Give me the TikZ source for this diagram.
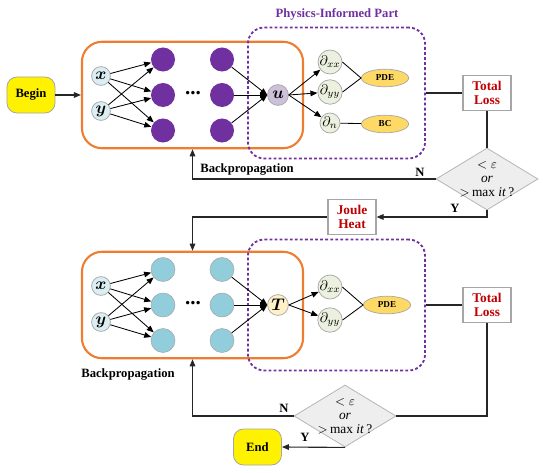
\documentclass[tikz,border=0pt]{standalone}
\usepackage{fontspec}
\setmainfont{Liberation Serif}
\usepackage{amsmath,amssymb}
\usepackage{xcolor}
\usepackage{tikz}
\usetikzlibrary{arrows.meta, positioning, shapes.geometric, calc}
\definecolor{nnline}{RGB}{237,125,49}
\definecolor{piline}{RGB}{112,48,160}
\definecolor{hidfillA}{RGB}{112,48,160}
\definecolor{hidfillB}{RGB}{146,205,220}
\definecolor{infill}{RGB}{218,238,243}
\definecolor{ufill}{RGB}{204,192,218}
\definecolor{tfill}{RGB}{255,240,200}
\definecolor{dfill}{RGB}{235,241,222}
\definecolor{termfill}{RGB}{255,217,102}
\definecolor{lossred}{RGB}{192,0,0}
\definecolor{boxline}{RGB}{166,166,166}
\definecolor{chkfill}{RGB}{238,238,238}

\begin{document}
\begin{tikzpicture}[
  x=0.025cm, y=-0.025cm,
  font=\fontsize{9}{10}\selectfont,
  termbox/.style={fill=yellow, draw=boxline, line width=0.6pt,
                  rounded corners=0.25cm, minimum width=1.2cm,
                  minimum height=0.9cm, font=\bfseries\fontsize{9}{10}\selectfont},
  nnbox/.style={draw=nnline, line width=1.5pt, rounded corners=0.5cm,
                minimum width=5.525cm, minimum height=2.66cm},
  pibox/.style={draw=piline, line width=1.3pt, dash pattern=on 2pt off 1.6pt,
                rounded corners=0.4cm, minimum width=4.425cm,
                minimum height=3.27cm},
  innode/.style={circle, fill=infill, draw=boxline, line width=0.5pt,
                 minimum size=0.47cm, inner sep=0pt,
                 font=\fontsize{12}{12}\selectfont},
  hidA/.style={circle, fill=hidfillA, minimum size=0.6cm, inner sep=0pt},
  hidB/.style={circle, fill=hidfillB, draw=boxline, line width=0.4pt,
               minimum size=0.6cm, inner sep=0pt},
  dotsnode/.style={font=\bfseries\fontsize{15}{15}\selectfont, inner sep=0pt},
  outnode/.style={circle, draw=boxline, line width=0.5pt,
                  minimum size=0.52cm, inner sep=0pt,
                  font=\fontsize{12}{12}\selectfont},
  dnode/.style={circle, fill=dfill, draw=boxline, line width=0.5pt,
                minimum size=0.5cm, inner sep=0pt,
                font=\fontsize{10}{10}\selectfont},
  lossterm/.style={ellipse, fill=termfill, draw=boxline, line width=0.5pt,
                   minimum width=1.18cm, minimum height=0.44cm, inner sep=0pt,
                   font=\bfseries\fontsize{6.5}{7}\selectfont},
  lossbox/.style={fill=white, draw=boxline, line width=0.8pt,
                  minimum width=1.2cm, minimum height=0.88cm, align=center,
                  text=lossred, font=\bfseries\fontsize{9.5}{10.5}\selectfont},
  decision/.style={diamond, fill=chkfill, draw=boxline!80, line width=0.6pt,
                   minimum width=2.55cm, minimum height=1.55cm, inner sep=0pt},
  dectext/.style={align=center, font=\fontsize{9.5}{10}\selectfont},
  netarrow/.style={-{Triangle[length=5pt, width=4pt]}, line width=0.6pt},
  netline/.style={line width=0.6pt},
  flowline/.style={line width=0.8pt, draw=black!85},
  flowarrow/.style={flowline, -{Triangle[length=5pt, width=4pt]}},
  lbl/.style={font=\bfseries\fontsize{9}{10}\selectfont},
]
\useasboundingbox (0,0) rectangle (550,472);

% =================================================================
%  TOP PART — NETWORK FOR u
% =================================================================
\node[termbox] (begin) at (31,95) {Begin};

\node[nnbox] (nn1) at (192.5,95) {};
\node[pibox] (pi1) at (336.5,93) {};
\node[lbl, text=piline] (pititle) at (337,14) {Physics-Informed Part};

\node[innode] (x1) at (101,76) {$\boldsymbol{x}$};
\node[innode] (y1) at (101,111) {$\boldsymbol{y}$};

\node[hidA] (ha1) at (163,59.5) {};
\node[hidA] (hb1) at (163,95) {};
\node[hidA] (hc1) at (163,130.5) {};
\node[dotsnode] (dots1) at (193,93) {...};
\node[hidA] (ka1) at (222,59.5) {};
\node[hidA] (kb1) at (222,95) {};
\node[hidA] (kc1) at (222,130.5) {};

\node[outnode, fill=ufill] (u) at (278,95) {$\boldsymbol{u}$};

\node[dnode] (dxx1) at (330,62) {$\partial_{xx}$};
\node[dnode] (dyy1) at (330,92) {$\partial_{yy}$};
\node[dnode] (dn1) at (330,123) {$\partial_{n}$};

\node[lossterm] (pde1) at (385,78) {PDE};
\node[lossterm] (bc1) at (385,124) {BC};

\node[lossbox] (tl1) at (487,93) {Total\\Loss};
\node[decision, label={[dectext]center:{$<\varepsilon$\\ \textit{or}\\
      $>$\,max \textit{it}\,?}}] (chk1) at (487,179) {};

\node[lossbox] (joule) at (352,217) {Joule\\Heat};

% =================================================================
%  BOTTOM PART — NETWORK FOR T
% =================================================================
\node[nnbox] (nn2) at (192.5,305) {};
\node[pibox] (pi2) at (336.5,305) {};

\node[innode] (x2) at (101,286) {$\boldsymbol{x}$};
\node[innode] (y2) at (101,322) {$\boldsymbol{y}$};

\node[hidB] (ha2) at (163,269.5) {};
\node[hidB] (hb2) at (163,305) {};
\node[hidB] (hc2) at (163,340.5) {};
\node[dotsnode] (dots2) at (193,303) {...};
\node[hidB] (ka2) at (222,269.5) {};
\node[hidB] (kb2) at (222,305) {};
\node[hidB] (kc2) at (222,340.5) {};

\node[outnode, fill=tfill] (T) at (278,305) {$\boldsymbol{T}$};

\node[dnode] (dxx2) at (330,287) {$\partial_{xx}$};
\node[dnode] (dyy2) at (330,320) {$\partial_{yy}$};

\node[lossterm] (pde2) at (387,305) {PDE};

\node[lossbox] (tl2) at (487,305) {Total\\Loss};
\node[decision, label={[dectext]center:{$<\varepsilon$\\ \textit{or}\\
      $>$\,max \textit{it}\,?}}] (chk2) at (345,416) {};

\node[termbox] (end) at (257.5,447) {End};

% =================================================================
%  NETWORK ARROWS
% =================================================================
\foreach \s in {x1,y1} \foreach \t in {ha1,hb1,hc1}
  \draw[netarrow] (\s) -- (\t);
\foreach \s in {ka1,kb1,kc1}
  \draw[netarrow] (\s) -- (u.west);
\foreach \t in {dxx1,dyy1,dn1}
  \draw[netarrow] (u.east) -- (\t);
\draw[netline] (dxx1.east) -- (pde1.west);
\draw[netline] (dyy1.east) -- (pde1.west);
\draw[netline] (dn1) -- (bc1);

\foreach \s in {x2,y2} \foreach \t in {ha2,hb2,hc2}
  \draw[netarrow] (\s) -- (\t);
\foreach \s in {ka2,kb2,kc2}
  \draw[netarrow] (\s) -- (T.west);
\foreach \t in {dxx2,dyy2}
  \draw[netarrow] (T.east) -- (\t);
\draw[netline] (dxx2.east) -- (pde2.west);
\draw[netline] (dyy2.east) -- (pde2.west);

% =================================================================
%  FLOW ARROWS
% =================================================================
\draw[flowarrow] (begin) -- (nn1);
\draw[flowline] (pi1.east) -- (tl1.west);
\draw[flowline] (tl1) -- (chk1.north);
\draw[flowarrow] (chk1.west) -| (nn1.south);
\draw[flowarrow] (chk1.south) |- (joule.east);
\draw[flowarrow] (joule.west) -| (nn2.north);

\draw[flowline] (pi2.east) -- (tl2.west);
\draw[flowline] (tl2.south) |- (chk2.east);
\draw[flowarrow] (chk2.west) -| (nn2.south);
\draw[flowarrow] (chk2.south) -- (end.east);

% =================================================================
%  LABELS
% =================================================================
\node[lbl] (bp1) at (247,170) {Backpropagation};
\node[lbl] (n1) at (420,172) {N};
\node[lbl] (y1lbl) at (455,208) {Y};
\node[lbl] (bp2) at (128,375) {Backpropagation};
\node[lbl] (n2) at (284,408) {N};
\node[lbl] (y2lbl) at (305,437) {Y};

\end{tikzpicture}
\end{document}
